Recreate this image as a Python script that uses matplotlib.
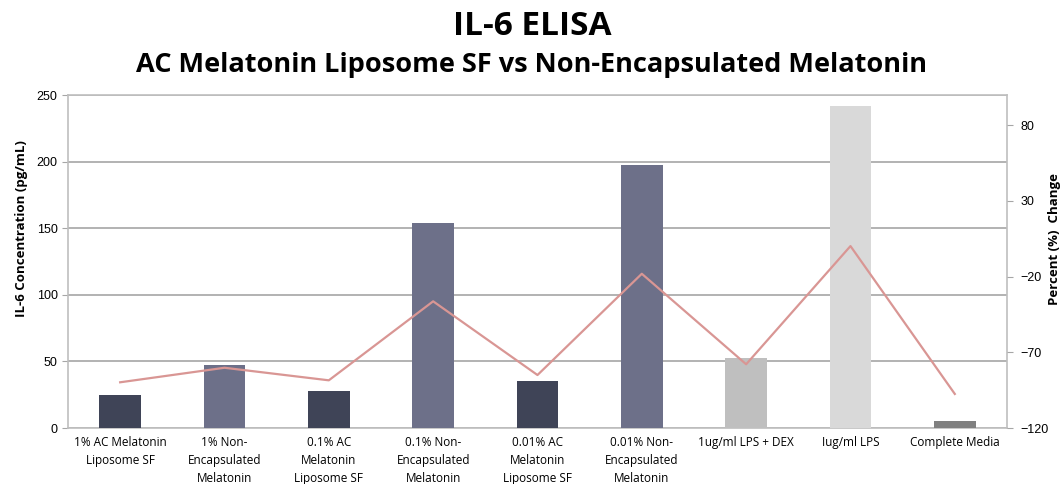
import numpy as np
import matplotlib
matplotlib.use("Agg")
import matplotlib.pyplot as plt

# Data
categories = [
    "1% AC Melatonin\nLiposome SF",
    "1% Non-\nEncapsulated\nMelatonin",
    "0.1% AC\nMelatonin\nLiposome SF",
    "0.1% Non-\nEncapsulated\nMelatonin",
    "0.01% AC\nMelatonin\nLiposome SF",
    "0.01% Non-\nEncapsulated\nMelatonin",
    "1ug/ml LPS + DEX",
    "Iug/ml LPS",
    "Complete Media",
]
il6_conc = [24.8, 47.3, 27.8, 153.9, 35.3, 197.4, 52.5, 242.0, 5.3]
pct_change = [-89.8, -80.2, -88.5, -36.3, -85.0, -18.1, -77.9, 0.2, -97.5]
bar_colors = ["#3F4457", "#6D7089", "#3F4457", "#6D7089", "#3F4457",
              "#6D7089", "#BFBFBF", "#D9D9D9", "#808080"]

plt.rcParams['font.family'] = ['Open Sans', 'DejaVu Sans']

fig = plt.figure(figsize=(10.64, 4.84), dpi=100)
ax = fig.add_axes([0.0639, 0.1157, 0.8825, 0.688])
x = np.arange(len(categories))

ax.bar(x, il6_conc, width=0.4, color=bar_colors, zorder=3)
ax.set_xlim(-0.5, len(categories) - 0.5)
ax.set_ylim(0, 250)
ax.set_yticks(np.arange(0, 251, 50))
ax.yaxis.grid(True, color="#A6A6A6", linewidth=1.2, zorder=0)
ax.set_xticks(x)
ax.set_xticklabels(categories, fontsize=8.5, linespacing=1.5)
ax.tick_params(axis='x', length=0, pad=6)
ax.tick_params(axis='y', length=4, color="#A6A6A6", labelsize=9)
for lbl in ax.get_yticklabels():
    lbl.set_fontfamily('Liberation Sans')
for s in ax.spines.values():
    s.set_color("#BFBFBF")
    s.set_linewidth(1.2)

ax2 = ax.twinx()
ax2.plot(x, pct_change, color="#D99694", linewidth=1.6, zorder=4)
ax2.set_ylim(-120, 100)
ax2.set_yticks(np.arange(-120, 81, 50))
ax2.tick_params(axis='y', length=4, color="#A6A6A6", labelsize=9, pad=6)
for lbl in ax2.get_yticklabels():
    lbl.set_fontfamily('Liberation Sans')
for s in ax2.spines.values():
    s.set_visible(False)

# axis titles placed like the original (centred a bit above the plot middle)
fig.text(0.020, 0.527, "IL-6 Concentration (pg/mL)", rotation=90, ha='center',
         va='center', fontsize=9.5, fontweight='bold')
fig.text(0.9915, 0.506, "Percent (%)  Change", rotation=90, ha='center',
         va='center', fontsize=9.5, fontweight='bold')

fig.text(0.5, 0.946, "IL-6 ELISA", ha='center', va='center', fontsize=24, fontweight='bold')
fig.text(0.5, 0.866, "AC Melatonin Liposome SF vs Non-Encapsulated Melatonin",
         ha='center', va='center', fontsize=19.5, fontweight='bold')

fig.savefig("out.png", dpi=100)
